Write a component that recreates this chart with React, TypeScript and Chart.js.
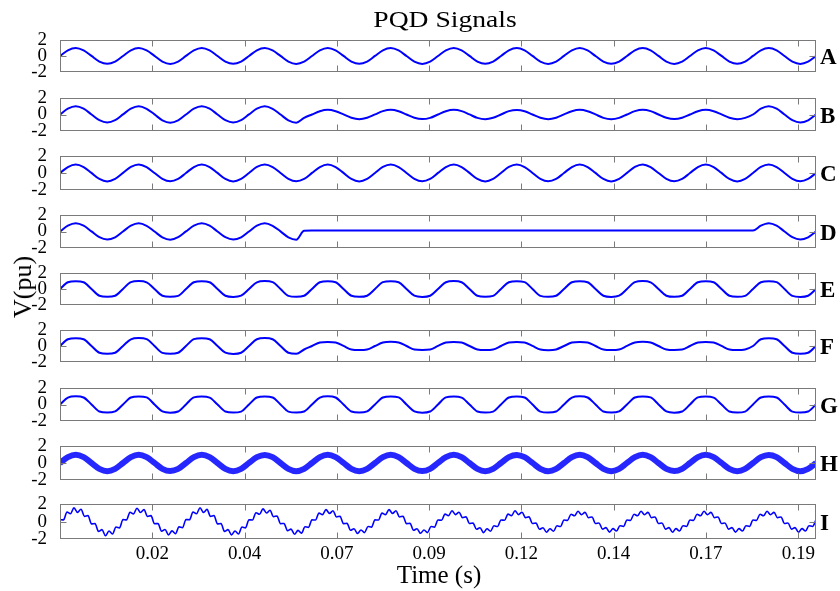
import { useEffect, useRef } from "react";
import { Chart, registerables } from "chart.js";

Chart.register(...registerables);

const FONT = "'Liberation Serif', 'Times New Roman', Times, serif";

// ---------- data ----------
const PANEL_NAMES = ["A", "B", "C", "D", "E", "F", "G", "H", "I"];
const X_MIN = 0;
const X_MAX = 0.2;
const X_TICK_VALUES = [0.024414, 0.048828, 0.073242, 0.097656, 0.12207, 0.146484, 0.170898, 0.195313];
const X_TICK_LABELS = ["0.02", "0.04", "0.07", "0.09", "0.12", "0.14", "0.17", "0.19"];
const Y_TICK_VALUES = [-2, 0, 2];
const Y_TICK_LABELS = ["-2", "0", "2"];

// samples per second of the stored traces
const RATE_COARSE = 480;
const RATE_FINE = 1080;

const SIGNAL_A = [
  0, 0.73, 1.03, 0.72, 0.01, -0.71, -1.0, -0.72,
  0, 0.72, 1.02, 0.71, 0.02, -0.71, -1.01, -0.71,
  0.01, 0.72, 1.03, 0.72, 0, -0.72, -1.0, -0.71,
  0, 0.73, 1.02, 0.71, 0.01, -0.71, -1.01, -0.72,
  0, 0.72, 1.03, 0.72, 0.01, -0.71, -1.0, -0.71,
  0.01, 0.73, 1.02, 0.71, 0, -0.72, -1.01, -0.72,
  0, 0.72, 1.03, 0.72, 0.01, -0.71, -1.0, -0.71,
  0, 0.73, 1.02, 0.72, 0.01, -0.71, -1.01, -0.72,
  0.01, 0.72, 1.03, 0.71, 0, -0.72, -1.0, -0.71,
  0, 0.73, 1.02, 0.72, 0.01, -0.71, -1.01, -0.72,
  0, 0.72, 1.03, 0.71, 0.01, -0.71, -1.0, -0.71,
  0.01, 0.73, 1.02, 0.72, 0, -0.72, -1.01, -0.72,
  0,
];

const SIGNAL_B = [
  0, 0.72, 1.02, 0.72, 0, -0.71, -1.0, -0.71,
  0.01, 0.73, 1.03, 0.71, 0.01, -0.72, -1.01, -0.72,
  0, 0.72, 1.02, 0.72, 0, -0.71, -1.0, -0.71,
  0.01, 0.72, 1.03, 0.71, 0, -0.72, -1.01, -0.41,
  0, 0.41, 0.58, 0.41, 0.01, -0.41, -0.58, -0.41,
  0.01, 0.42, 0.59, 0.41, 0, -0.41, -0.57, -0.42,
  0, 0.41, 0.58, 0.42, 0.01, -0.42, -0.58, -0.41,
  0, 0.42, 0.57, 0.41, 0, -0.41, -0.59, -0.41,
  0.01, 0.41, 0.58, 0.41, 0.01, -0.42, -0.58, -0.42,
  0, 0.42, 0.59, 0.42, 0, -0.41, -0.57, -0.41,
  0, 0.41, 0.58, 0.41, 0.01, -0.41, -0.58, -0.42,
  0, 0.72, 1.03, 0.72, 0, -0.71, -1.0, -0.72,
  0,
];

const SIGNAL_C = [
  0, 0.72, 1.02, 0.72, 0.01, -0.72, -1.01, -0.71,
  0.01, 0.73, 1.03, 0.71, 0, -0.71, -1.0, -0.72,
  0, 0.72, 1.02, 0.72, 0.01, -0.72, -1.01, -0.71,
  0, 0.73, 1.03, 0.72, 0, -0.71, -1.0, -0.72,
  0.01, 0.72, 1.02, 0.71, 0.01, -0.72, -1.01, -0.71,
  0, 0.73, 1.03, 0.72, 0, -0.71, -1.0, -0.72,
  0.01, 0.72, 1.02, 0.71, 0.01, -0.72, -1.01, -0.71,
  0, 0.73, 1.03, 0.72, 0, -0.71, -1.0, -0.72,
  0, 0.72, 1.02, 0.72, 0.01, -0.72, -1.01, -0.71,
  0.01, 0.73, 1.03, 0.71, 0, -0.71, -1.0, -0.72,
  0, 0.72, 1.02, 0.72, 0.01, -0.72, -1.01, -0.71,
  0, 0.73, 1.03, 0.72, 0, -0.71, -1.0, -0.72,
  0,
];

const SIGNAL_D = [
  0, 0.72, 1.02, 0.72, 0.01, -0.71, -1.0, -0.72,
  0, 0.73, 1.03, 0.71, 0, -0.72, -1.01, -0.71,
  0.01, 0.72, 1.02, 0.72, 0, -0.71, -1.0, -0.72,
  0, 0.72, 1.03, 0.71, 0.01, -0.72, -1.01, 0.1,
  0.12, 0.13, 0.11, 0.12, 0.13, 0.12, 0.11, 0.12,
  0.13, 0.12, 0.11, 0.13, 0.12, 0.11, 0.12, 0.13,
  0.12, 0.11, 0.13, 0.12, 0.12, 0.13, 0.11, 0.12,
  0.13, 0.12, 0.12, 0.11, 0.13, 0.12, 0.12, 0.13,
  0.11, 0.12, 0.13, 0.12, 0.11, 0.13, 0.12, 0.12,
  0.12, 0.13, 0.11, 0.12, 0.13, 0.12, 0.11, 0.12,
  0.13, 0.12, 0.12, 0.11, 0.13, 0.12, 0.12, 0.13,
  0.12, 0.72, 1.02, 0.72, 0, -0.71, -1.0, -0.72,
  0,
];

const SIGNAL_E = [
  0, 0.87, 1.0, 0.87, 0, -0.87, -1.0, -0.87,
  0.01, 0.88, 1.01, 0.86, 0, -0.86, -0.99, -0.88,
  0, 0.87, 1.0, 0.87, 0.01, -0.87, -1.01, -0.86,
  0, 0.86, 1.01, 0.88, 0, -0.88, -1.0, -0.87,
  0.01, 0.87, 0.99, 0.87, 0, -0.87, -1.0, -0.86,
  0, 0.88, 1.0, 0.86, 0.01, -0.86, -1.01, -0.87,
  0, 0.87, 1.01, 0.87, 0, -0.87, -0.99, -0.88,
  0.01, 0.86, 1.0, 0.88, 0, -0.88, -1.0, -0.87,
  0, 0.87, 1.0, 0.87, 0.01, -0.87, -1.01, -0.86,
  0, 0.88, 1.01, 0.86, 0, -0.86, -1.0, -0.87,
  0.01, 0.87, 0.99, 0.87, 0, -0.87, -1.0, -0.88,
  0, 0.86, 1.0, 0.88, 0, -0.88, -1.01, -0.87,
  0,
];

const SIGNAL_F = [
  0, 0.87, 1.0, 0.87, 0, -0.87, -1.0, -0.87,
  0.01, 0.86, 1.01, 0.88, 0, -0.88, -0.99, -0.86,
  0, 0.88, 1.0, 0.86, 0.01, -0.86, -1.01, -0.87,
  0, 0.87, 1.01, 0.87, 0, -0.87, -1.0, -0.45,
  0, 0.45, 0.52, 0.45, 0.01, -0.45, -0.52, -0.45,
  0, 0.44, 0.53, 0.45, 0, -0.45, -0.51, -0.45,
  0.01, 0.45, 0.52, 0.44, 0, -0.44, -0.52, -0.45,
  0, 0.45, 0.51, 0.45, 0.01, -0.45, -0.53, -0.44,
  0, 0.44, 0.52, 0.45, 0, -0.45, -0.52, -0.45,
  0.01, 0.45, 0.53, 0.44, 0, -0.44, -0.51, -0.45,
  0, 0.45, 0.52, 0.45, 0.01, -0.45, -0.52, -0.44,
  0, 0.87, 1.0, 0.87, 0, -0.87, -1.0, -0.87,
  0,
];

const SIGNAL_G = [
  0, 0.86, 1.01, 0.87, 0.01, -0.87, -1.0, -0.86,
  0, 0.87, 1.0, 0.88, 0, -0.86, -1.01, -0.87,
  0.01, 0.88, 0.99, 0.86, 0, -0.87, -1.0, -0.88,
  0, 0.87, 1.0, 0.87, 0.01, -0.88, -0.99, -0.87,
  0, 0.86, 1.01, 0.87, 0, -0.87, -1.0, -0.86,
  0.01, 0.87, 1.0, 0.88, 0, -0.86, -1.01, -0.87,
  0, 0.88, 0.99, 0.86, 0.01, -0.87, -1.0, -0.88,
  0, 0.87, 1.0, 0.87, 0, -0.88, -0.99, -0.87,
  0.01, 0.86, 1.01, 0.87, 0, -0.87, -1.0, -0.86,
  0, 0.87, 1.0, 0.88, 0.01, -0.86, -1.01, -0.87,
  0, 0.88, 0.99, 0.86, 0, -0.87, -1.0, -0.88,
  0.01, 0.87, 1.0, 0.87, 0, -0.88, -0.99, -0.87,
  0,
];

const SIGNAL_H = [
  0, 0.7, 0.98, 0.7, 0, -0.7, -0.98, -0.7,
  0, 0.71, 0.99, 0.7, 0.01, -0.7, -0.97, -0.71,
  0, 0.7, 0.98, 0.71, 0, -0.71, -0.98, -0.7,
  0.01, 0.7, 0.97, 0.7, 0, -0.7, -0.99, -0.7,
  0, 0.71, 0.98, 0.7, 0.01, -0.71, -0.98, -0.71,
  0, 0.7, 0.99, 0.71, 0, -0.7, -0.97, -0.7,
  0.01, 0.7, 0.98, 0.7, 0, -0.71, -0.98, -0.7,
  0, 0.71, 0.97, 0.7, 0.01, -0.7, -0.99, -0.71,
  0, 0.7, 0.98, 0.71, 0, -0.7, -0.98, -0.7,
  0.01, 0.7, 0.99, 0.7, 0, -0.71, -0.97, -0.7,
  0, 0.71, 0.98, 0.7, 0.01, -0.7, -0.98, -0.71,
  0, 0.7, 0.97, 0.71, 0, -0.7, -0.99, -0.7,
  0,
];

const SIGNAL_I = [
  0.25, 0.21, 1.12, 0.92, 1.6, 1.08, 1.44, 0.62, 0.71, -0.25, -0.21, -1.12, -0.92, -1.62, -1.08, -1.42, -0.62, -0.71,
  0.25, 0.21, 1.1, 0.9, 1.56, 1.06, 1.4, 0.6, 0.7, -0.24, -0.2, -1.1, -0.9, -1.52, -1.06, -1.4, -0.6, -0.7,
  0.25, 0.22, 1.12, 0.92, 1.62, 1.08, 1.42, 0.62, 0.71, -0.25, -0.21, -1.12, -0.92, -1.52, -1.08, -1.42, -0.62, -0.71,
  0.23, 0.2, 1.04, 0.86, 1.48, 1.0, 1.32, 0.58, 0.66, -0.23, -0.2, -1.04, -0.86, -1.45, -1.0, -1.32, -0.58, -0.66,
  0.22, 0.19, 0.99, 0.82, 1.4, 0.96, 1.26, 0.55, 0.63, -0.22, -0.19, -0.99, -0.82, -1.36, -0.96, -1.26, -0.55, -0.63,
  0.22, 0.19, 0.99, 0.82, 1.4, 0.96, 1.26, 0.55, 0.63, -0.22, -0.19, -0.99, -0.82, -1.34, -0.96, -1.26, -0.55, -0.63,
  0.2, 0.16, 0.88, 0.7, 1.26, 0.82, 1.1, 0.47, 0.56, -0.2, -0.16, -0.88, -0.7, -1.26, -0.82, -1.1, -0.47, -0.56,
  0.2, 0.16, 0.88, 0.7, 1.26, 0.82, 1.1, 0.47, 0.56, -0.2, -0.16, -0.88, -0.7, -1.22, -0.82, -1.1, -0.47, -0.56,
  0.2, 0.15, 0.86, 0.68, 1.2, 0.8, 1.08, 0.46, 0.55, -0.2, -0.15, -0.86, -0.68, -1.2, -0.8, -1.08, -0.46, -0.55,
  0.2, 0.15, 0.86, 0.68, 1.2, 0.8, 1.08, 0.46, 0.55, -0.2, -0.15, -0.86, -0.68, -1.22, -0.8, -1.08, -0.46, -0.55,
  0.2, 0.15, 0.86, 0.68, 1.2, 0.8, 1.08, 0.46, 0.55, -0.2, -0.15, -0.86, -0.68, -1.2, -0.8, -1.08, -0.46, -0.55,
  0.2, 0.15, 0.86, 0.68, 1.2, 0.8, 1.08, 0.46, 0.55, -0.2, -0.15, -0.86, -0.68, -1.22, -0.8, -1.08, -0.46, -0.55,
  0.2,
];

const SIGNALS = [SIGNAL_A, SIGNAL_B, SIGNAL_C, SIGNAL_D, SIGNAL_E, SIGNAL_F, SIGNAL_G, SIGNAL_H, SIGNAL_I];
const SIGNAL_RATES = [RATE_COARSE, RATE_COARSE, RATE_COARSE, RATE_COARSE, RATE_COARSE, RATE_COARSE, RATE_COARSE, RATE_COARSE, RATE_FINE];

// ---------- layout (pixels) ----------
const PANEL_TOPS = [38, 96, 154, 213, 271, 328, 386, 444, 502];
const PANEL_BOTTOMS = [74, 133, 192, 250, 307, 364, 423, 482, 539];
const LINE_WIDTHS = [2, 2, 2, 2, 2, 2, 2, 6, 1.6];
const LINE_COLORS = ["#0000ff", "#0000ff", "#0000ff", "#0000ff", "#0000ff", "#0000ff", "#0000ff", "rgba(0,0,255,0.85)", "#0000ff"];

function makeFramePlugin(name: string) {
  return {
    id: "frame_" + name,
    afterDatasetsDraw(chart: any) {
      const { ctx, chartArea, scales } = chart;
      const { left, right, top, bottom } = chartArea;
      const L = Math.round(left) + 0.5;
      const R = Math.round(right) - 0.5;
      const T = Math.round(top) + 0.5;
      const B = Math.round(bottom) - 0.5;
      ctx.save();
      ctx.strokeStyle = "#7a7a7a";
      ctx.lineWidth = 1;
      ctx.strokeRect(L, T, R - L, B - T);
      ctx.beginPath();
      for (const v of X_TICK_VALUES) {
        const px = Math.round(scales.x.getPixelForValue(v)) + 0.5;
        ctx.moveTo(px, T);
        ctx.lineTo(px, T + 6);
        ctx.moveTo(px, B);
        ctx.lineTo(px, B - 6);
      }
      const py = Math.round(scales.y.getPixelForValue(0)) + 0.5;
      ctx.moveTo(L, py);
      ctx.lineTo(L + 6, py);
      ctx.moveTo(R, py);
      ctx.lineTo(R - 6, py);
      ctx.stroke();
      ctx.fillStyle = "#000";
      ctx.font = `bold 23px ${FONT}`;
      ctx.textAlign = "left";
      ctx.textBaseline = "alphabetic";
      ctx.fillText(name, right + 4, (top + bottom) / 2 + 8);
      ctx.restore();
    },
  };
}

function Panel({ index }: { index: number }) {
  const ref = useRef<HTMLCanvasElement | null>(null);
  const last = index === PANEL_NAMES.length - 1;
  const top = PANEL_TOPS[index];
  const h = PANEL_BOTTOMS[index] - top;
  const padTop = 14;
  const padBottom = last ? 4 : 14;
  const axisH = last ? 30 : 0;
  const height = padTop + h + axisH + padBottom;

  useEffect(() => {
    const values = SIGNALS[index];
    const rate = SIGNAL_RATES[index];
    const chart = new Chart(ref.current as HTMLCanvasElement, {
      type: "line",
      data: {
        datasets: [
          {
            data: values.map((v, k) => ({ x: k / rate, y: v })),
            borderColor: LINE_COLORS[index],
            borderWidth: LINE_WIDTHS[index],
            pointRadius: 0,
            fill: false,
            cubicInterpolationMode: "monotone",
          } as any,
        ],
      },
      options: {
        responsive: false,
        animation: false,
        devicePixelRatio: 1,
        events: [],
        layout: { padding: { left: 0, right: 24, top: padTop, bottom: padBottom } },
        plugins: { legend: { display: false }, tooltip: { enabled: false }, title: { display: false } },
        scales: {
          x: {
            type: "linear",
            min: X_MIN,
            max: X_MAX,
            grid: { display: false },
            border: { display: false },
            afterBuildTicks: (s: any) => {
              s.ticks = X_TICK_VALUES.map((v) => ({ value: v }));
            },
            ticks: {
              display: last,
              autoSkip: false,
              maxRotation: 0,
              minRotation: 0,
              padding: -4,
              color: "#000",
              font: { family: FONT, size: 19 },
              callback: (_v: any, i: number) => X_TICK_LABELS[i],
            },
            afterFit: (s: any) => {
              s.height = axisH;
            },
          },
          y: {
            type: "linear",
            min: -2,
            max: 2,
            grid: { display: false },
            border: { display: false },
            afterBuildTicks: (s: any) => {
              s.ticks = Y_TICK_VALUES.map((v) => ({ value: v }));
            },
            ticks: {
              autoSkip: false,
              padding: 5,
              color: "#000",
              font: { family: FONT, size: 19 },
              callback: (_v: any, i: number) => Y_TICK_LABELS[i],
            },
            afterFit: (s: any) => {
              s.width = 60;
            },
          },
        },
      } as any,
      plugins: [makeFramePlugin(PANEL_NAMES[index])],
    });
    return () => chart.destroy();
  }, [index]);

  return (
    <canvas
      ref={ref}
      width={840}
      height={height}
      style={{ position: "absolute", left: 0, top: top - padTop, display: "block" }}
    />
  );
}

export default function App() {
  return (
    <div
      style={{
        position: "absolute",
        left: 0,
        top: 0,
        width: 840,
        height: 591,
        background: "#fff",
        overflow: "hidden",
        fontFamily: FONT,
      }}
    >
      {PANEL_NAMES.map((_, i) => (
        <Panel key={i} index={i} />
      ))}
      <div
        style={{
          position: "absolute",
          left: 445,
          top: 8,
          fontSize: 23,
          lineHeight: "23px",
          whiteSpace: "nowrap",
          transform: "translateX(-50%) scaleX(1.2)",
          color: "#000",
        }}
      >
        PQD Signals
      </div>
      <div
        style={{
          position: "absolute",
          left: 439,
          top: 562,
          fontSize: 25,
          lineHeight: "25px",
          whiteSpace: "nowrap",
          transform: "translateX(-50%)",
          color: "#000",
        }}
      >
        Time (s)
      </div>
      <div
        style={{
          position: "absolute",
          left: 23,
          top: 287,
          fontSize: 26,
          lineHeight: "26px",
          whiteSpace: "nowrap",
          transform: "translate(-50%, -50%) rotate(-90deg)",
          color: "#000",
        }}
      >
        V(pu)
      </div>
    </div>
  );
}
